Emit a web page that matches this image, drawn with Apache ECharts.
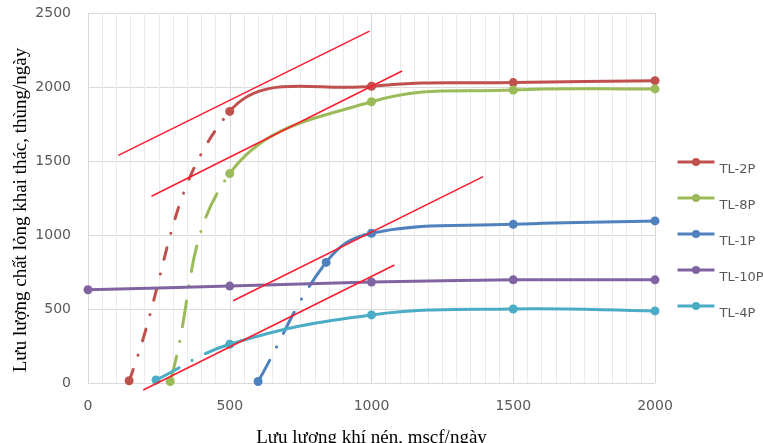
<!DOCTYPE html>
<html>
<head>
<meta charset="utf-8">
<script src="https://cdn.jsdelivr.net/npm/echarts@6/dist/echarts.min.js"></script>
<style>
  html, body { margin: 0; padding: 0; background: #ffffff; }
  #chart { width: 763px; height: 443px; }
</style>
</head>
<body>
<div id="chart"></div>
<script>
// Liquid production vs. injected gas rate, one curve per well.
// Each point: [gas rate (mscf/ngày), liquid rate (thùng/ngày)]
const wellNames = ['TL-2P', 'TL-8P', 'TL-1P', 'TL-10P', 'TL-4P'];
const tl2p  = [[145, 15], [500, 1835], [1000, 2005], [1500, 2030], [2000, 2043]];
const tl8p  = [[290, 10], [500, 1415], [1000, 1900], [1500, 1980], [2000, 1987]];
const tl1p  = [[600, 10], [840, 815], [1000, 1012], [1500, 1072], [2000, 1095]];
const tl10p = [[0, 630], [500, 655], [1000, 682], [1500, 697], [2000, 697]];
const tl4p  = [[240, 20], [500, 262], [1000, 460], [1500, 500], [2000, 487]];

// Number of leading segments drawn dash-dot (extrapolated part) for each well.
const dashedSegments = [1, 1, 1, 0, 1];

// Straight reference lines (two end points each).
const refLine1 = [[107, 1538], [993, 2378]];
const refLine2 = [[224, 1262], [1108, 2108]];
const refLine3 = [[512, 556], [1394, 1394]];
const refLine4 = [[195, -47], [1081, 797]];

// Axis ticks
const xTicks = [0, 500, 1000, 1500, 2000];
const yTicks = [0, 500, 1000, 1500, 2000, 2500];

const wellData = [tl2p, tl8p, tl1p, tl10p, tl4p];
const wellColors = ['#C0504D', '#9BBB59', '#4F81BD', '#8064A2', '#4BACC6'];
const dashPatterns = [[12, 15, 0.1, 15], [26, 15, 0.1, 15], [24, 15, 0.1, 15], null, [26, 15, 0.1, 15]];
const SMOOTH = 0.4;

// Smoothed curve: one cubic Bezier per pair of neighbouring points,
// tangents taken from the neighbours on each side (pixel space).
function curveRenderer(data, color, dashCount, dash) {
  return function (params, api) {
    const i = params.dataIndex;
    const n = data.length;
    if (i >= n - 1) return null;
    const p = function (j) { return api.coord(data[Math.max(0, Math.min(n - 1, j))]); };
    const p0 = p(i - 1), p1 = p(i), p2 = p(i + 1), p3 = p(i + 2);
    const dist = function (a, b) { return Math.hypot(b[0] - a[0], b[1] - a[1]); };
    const d01 = dist(p0, p1), d12 = dist(p1, p2), d23 = dist(p2, p3);
    const fa = SMOOTH * d12 / (d01 + d12);
    const fb = SMOOTH * d12 / (d12 + d23);
    return {
      type: 'bezierCurve',
      shape: {
        x1: p1[0], y1: p1[1],
        cpx1: p1[0] + (p2[0] - p0[0]) * fa, cpy1: p1[1] + (p2[1] - p0[1]) * fa,
        cpx2: p2[0] - (p3[0] - p1[0]) * fb, cpy2: p2[1] - (p3[1] - p1[1]) * fb,
        x2: p2[0], y2: p2[1]
      },
      style: {
        fill: 'none',
        stroke: color,
        lineWidth: 3,
        lineCap: i < dashCount ? 'round' : 'butt',
        lineDash: i < dashCount ? dash : null
      }
    };
  };
}

const series = [];
wellData.forEach(function (data, i) {
  series.push({
    type: 'custom',
    coordinateSystem: 'cartesian2d',
    data: data,
    encode: { x: 0, y: 1 },
    renderItem: curveRenderer(data, wellColors[i], dashedSegments[i], dashPatterns[i]),
    z: 2,
    silent: true
  });
});
// markers (and legend entries) for each well
wellData.forEach(function (data, i) {
  series.push({
    name: wellNames[i],
    type: 'line',
    data: data,
    symbol: 'circle',
    symbolSize: 9,
    itemStyle: { color: wellColors[i] },
    lineStyle: { color: wellColors[i], width: 3, opacity: 0 },
    z: 4
  });
});
[refLine1, refLine2, refLine3, refLine4].forEach(function (line) {
  series.push({
    type: 'line',
    data: line,
    symbol: 'none',
    clip: false,
    lineStyle: { color: '#FF1A2E', width: 1.5 },
    z: 5
  });
});

const labelStyle = { fontFamily: 'DejaVu Sans', fontSize: 14, color: '#595959' };
const plainNumber = function (v) { return String(v); };

const chart = echarts.init(document.getElementById('chart'), null, { renderer: 'canvas' });
chart.setOption({
  animation: false,
  backgroundColor: '#ffffff',
  grid: { left: 88, right: 108, top: 13, bottom: 60, containLabel: false, outerBoundsMode: 'none' },
  xAxis: {
    type: 'value',
    min: xTicks[0],
    max: xTicks[xTicks.length - 1],
    interval: xTicks[1] - xTicks[0],
    axisLine: { show: true, lineStyle: { color: '#D9D9D9', width: 1 } },
    axisTick: { show: false },
    minorTick: { show: false, splitNumber: 10 },
    axisLabel: Object.assign({ margin: 16, formatter: plainNumber }, labelStyle),
    splitLine: { show: true, lineStyle: { color: '#D9D9D9', width: 1 } },
    minorSplitLine: { show: true, lineStyle: { color: '#EBEBEB', width: 1 } },
    name: 'Lưu lượng khí nén, mscf/ngày',
    nameLocation: 'middle',
    nameGap: 46,
    nameTextStyle: { fontFamily: 'Liberation Serif', fontSize: 19, color: '#000000' }
  },
  yAxis: {
    type: 'value',
    min: yTicks[0],
    max: yTicks[yTicks.length - 1],
    interval: yTicks[1] - yTicks[0],
    axisLine: { show: false },
    axisTick: { show: false },
    axisLabel: Object.assign({ margin: 17, formatter: plainNumber }, labelStyle),
    splitLine: { show: true, lineStyle: { color: '#D9D9D9', width: 1 } }
  },
  legend: {
    orient: 'vertical',
    left: 671,
    top: 141,
    itemWidth: 37,
    itemHeight: 10,
    itemGap: 4,
    selectedMode: false,
    data: wellNames,
    formatter: function (name) { return '\n' + name; },
    lineStyle: { width: 3, opacity: 1 },
    textStyle: { fontFamily: 'DejaVu Sans', fontSize: 13, lineHeight: 16, color: '#595959' }
  },
  graphic: [{
    type: 'text',
    x: 21,
    y: 210,
    rotation: Math.PI / 2,
    style: {
      text: 'Lưu lượng chất lỏng khai thác, thùng/ngày',
      fontFamily: 'Liberation Serif',
      fontSize: 19,
      fill: '#000000',
      align: 'center',
      verticalAlign: 'middle',
      textAlign: 'center',
      textVerticalAlign: 'middle'
    }
  }],
  series: series
});
</script>
</body>
</html>
